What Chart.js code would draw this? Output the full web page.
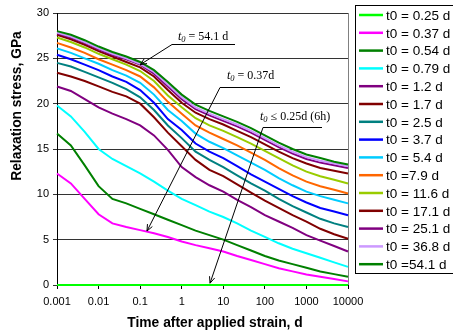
<!DOCTYPE html>
<html>
<head>
<meta charset="utf-8">
<script src="https://cdn.jsdelivr.net/npm/chart.js@4.4.1/dist/chart.umd.min.js"></script>
<style>
  html, body { margin: 0; padding: 0; background: #fff; }
  #wrap { width: 453px; height: 336px; }
</style>
</head>
<body>
<div id="wrap"><canvas id="relaxChart"></canvas></div>
<script>
// time after applied strain, d (three points per decade)
const times = [0.001, 0.002154, 0.004642, 0.01, 0.02154, 0.04642, 0.1, 0.2154, 0.4642,
  1, 2.154, 4.642, 10, 21.54, 46.42, 100, 215.4, 464.2, 1000, 2154, 4642, 10000];
const xTicks = [0.001, 0.01, 0.1, 1, 10, 100, 1000, 10000];

const labels = ['t0 = 0.25 d', 't0 = 0.37 d', 't0 = 0.54 d', 't0 = 0.79 d', 't0 = 1.2 d',
  't0 = 1.7 d', 't0 = 2.5 d', 't0 = 3.7 d', 't0 = 5.4 d', 't0 =7.9 d', 't0 = 11.6 d',
  't0 = 17.1 d', 't0 = 25.1 d', 't0 = 36.8 d', 't0 =54.1 d'];
const colors = ['#00ff00', '#ff00ff', '#008000', '#00ffff', '#800080', '#800000', '#008080',
  '#0000ff', '#00ccff', '#ff6600', '#99cc00', '#800000', '#800080', '#cc99ff', '#008000'];

// relaxation stress, GPa
const s025 = [0, 0, 0, 0, 0, 0, 0, 0, 0, 0, 0, 0, 0, 0, 0, 0, 0, 0, 0, 0, 0, 0];
const s037 = [12.3, 11.2, 9.5, 7.8, 6.8, 6.4, 6.05, 5.7, 5.3, 4.8, 4.4, 4.05, 3.7, 3.2, 2.75, 2.3, 1.85, 1.5, 1.15, 0.9, 0.65, 0.4];
const s054 = [16.7, 15.4, 13.2, 10.9, 9.5, 9.0, 8.4, 7.8, 7.2, 6.6, 6.0, 5.5, 5.0, 4.4, 3.8, 3.2, 2.7, 2.3, 1.9, 1.5, 1.2, 0.9];
const s079 = [19.8, 18.6, 16.9, 15.0, 13.9, 13.1, 12.3, 11.4, 10.4, 9.5, 8.8, 8.1, 7.5, 6.8, 6.0, 5.3, 4.6, 4.0, 3.5, 3.0, 2.5, 2.0];
const s12 = [21.9, 21.4, 20.5, 19.6, 18.9, 18.3, 17.6, 16.5, 14.9, 13.0, 11.9, 11.0, 10.3, 9.4, 8.6, 7.7, 7.0, 6.3, 5.5, 4.9, 4.3, 3.7];
const s17 = [23.4, 23.0, 22.5, 21.9, 21.3, 20.8, 20.0, 18.5, 16.8, 15.3, 13.8, 12.7, 12.0, 11.1, 10.2, 9.3, 8.5, 7.7, 7.0, 6.2, 5.6, 5.1];
const s25 = [24.5, 24.1, 23.5, 22.9, 22.3, 21.6, 20.7, 19.3, 17.6, 16.2, 14.7, 13.8, 13.0, 12.1, 11.2, 10.4, 9.5, 8.7, 8.0, 7.3, 6.8, 6.4];
const s37 = [25.4, 24.9, 24.3, 23.7, 23.0, 22.4, 21.5, 20.1, 18.3, 17.1, 15.6, 14.7, 14.0, 13.1, 12.2, 11.4, 10.6, 9.8, 9.1, 8.5, 8.1, 7.7];
const s54 = [26.1, 25.6, 25.0, 24.4, 23.7, 23.1, 22.3, 21.0, 19.3, 18.1, 16.7, 15.8, 15.1, 14.3, 13.5, 12.7, 11.8, 11.0, 10.3, 9.8, 9.4, 9.0];
const s79 = [26.7, 26.2, 25.6, 24.9, 24.3, 23.7, 23.0, 21.8, 20.2, 18.9, 17.6, 16.8, 16.1, 15.4, 14.6, 13.8, 12.9, 12.1, 11.4, 10.9, 10.5, 10.1];
const s116 = [27.3, 26.8, 26.2, 25.5, 24.9, 24.3, 23.6, 22.5, 20.9, 19.6, 18.4, 17.6, 17.0, 16.3, 15.6, 14.8, 14.0, 13.2, 12.5, 12.0, 11.6, 11.2];
const s171 = [27.6, 27.1, 26.5, 25.8, 25.2, 24.6, 24.0, 23.0, 21.5, 20.1, 19.0, 18.3, 17.7, 17.0, 16.3, 15.5, 14.7, 14.0, 13.4, 12.9, 12.6, 12.3];
const s251 = [27.75, 27.3, 26.7, 26.0, 25.4, 24.9, 24.3, 23.3, 21.9, 20.5, 19.4, 18.7, 18.1, 17.5, 16.8, 16.0, 15.2, 14.5, 13.9, 13.5, 13.2, 12.9];
const s368 = [27.85, 27.4, 26.8, 26.1, 25.5, 25.0, 24.4, 23.5, 22.1, 20.7, 19.6, 18.9, 18.3, 17.7, 17.0, 16.2, 15.4, 14.7, 14.1, 13.7, 13.4, 13.1];
const s541 = [28.0, 27.6, 27.0, 26.3, 25.7, 25.2, 24.6, 23.7, 22.4, 21.0, 19.9, 19.2, 18.6, 18.0, 17.3, 16.5, 15.7, 15.0, 14.4, 14.0, 13.6, 13.3];

const series = [s025, s037, s054, s079, s12, s17, s25, s37, s54, s79, s116, s171, s251, s368, s541];

const datasets = series.map((vals, i) => ({
  label: labels[i],
  data: vals.map((v, j) => ({ x: times[j], y: v })),
  borderColor: colors[i],
  backgroundColor: colors[i],
  borderWidth: 2,
  pointRadius: 0,
  tension: 0,
  fill: false,
  clip: false,
  order: -i
}));

function arrow(ctx, x1, y1, x2, y2) {
  const a = Math.atan2(y2 - y1, x2 - x1);
  const len = 7, spread = 0.4;
  ctx.beginPath();
  ctx.moveTo(x1, y1);
  ctx.lineTo(x2, y2);
  ctx.moveTo(x2 - len * Math.cos(a - spread), y2 - len * Math.sin(a - spread));
  ctx.lineTo(x2, y2);
  ctx.lineTo(x2 - len * Math.cos(a + spread), y2 - len * Math.sin(a + spread));
  ctx.stroke();
}

function t0label(ctx, x, y, rest) {
  ctx.textBaseline = 'alphabetic';
  ctx.textAlign = 'left';
  ctx.font = 'italic 12px "Liberation Serif"';
  ctx.fillText('t', x, y);
  let w = ctx.measureText('t').width;
  ctx.font = 'italic 8.5px "Liberation Serif"';
  ctx.fillText('0', x + w, y + 2);
  w += ctx.measureText('0').width;
  ctx.font = '12px "Liberation Serif"';
  ctx.fillText(rest, x + w, y);
}

const extras = {
  id: 'extras',
  beforeDatasetsDraw(chart) {
    // plot area border on the right
    const a = chart.chartArea, ctx = chart.ctx;
    ctx.save();
    ctx.strokeStyle = '#808080';
    ctx.lineWidth = 1;
    ctx.beginPath();
    ctx.moveTo(Math.round(a.right) + 0.5, a.top);
    ctx.lineTo(Math.round(a.right) + 0.5, a.bottom);
    ctx.stroke();
    ctx.restore();
  },
  afterDatasetsDraw(chart) {
    const ctx = chart.ctx;
    const xs = chart.scales.x, ys = chart.scales.y;
    ctx.save();
    ctx.strokeStyle = '#000';
    ctx.fillStyle = '#000';
    ctx.lineWidth = 1;

    // annotations
    ctx.beginPath(); ctx.moveTo(172, 44.5); ctx.lineTo(235, 44.5); ctx.stroke();
    arrow(ctx, 172, 44.5, xs.getPixelForValue(0.1), ys.getPixelForValue(24.3));
    t0label(ctx, 178, 40, ' = 54.1 d');

    ctx.beginPath(); ctx.moveTo(220, 87.5); ctx.lineTo(280, 87.5); ctx.stroke();
    arrow(ctx, 220, 87.5, xs.getPixelForValue(0.146), ys.getPixelForValue(5.95));
    t0label(ctx, 227, 79, ' = 0.37d');

    ctx.beginPath(); ctx.moveTo(263, 127.5); ctx.lineTo(322, 127.5); ctx.stroke();
    arrow(ctx, 263, 127.5, xs.getPixelForValue(4.8), ys.getPixelForValue(0.2));
    t0label(ctx, 260, 120, ' \u2264 0.25d (6h)');

    // axis titles
    ctx.font = 'bold 13.8px "Liberation Sans"';
    ctx.textAlign = 'center';
    ctx.textBaseline = 'middle';
    ctx.fillText('Time after applied strain, d', 215, 323);
    ctx.save();
    ctx.translate(17, 106);
    ctx.rotate(-Math.PI / 2);
    ctx.fillText('Relaxation stress, GPa', 0, 0);
    ctx.restore();

    // legend
    ctx.strokeRect(355.5, 5.5, 110, 268);
    ctx.font = '13.5px "Liberation Sans"';
    ctx.textAlign = 'left';
    labels.forEach((lab, i) => {
      const y = 15 + i * 17.8;
      ctx.strokeStyle = colors[i];
      ctx.lineWidth = 2.5;
      ctx.beginPath(); ctx.moveTo(359, y); ctx.lineTo(383, y); ctx.stroke();
      ctx.fillStyle = '#000';
      ctx.fillText(lab, 386, y + 1);
    });
    ctx.restore();
  }
};

new Chart(document.getElementById('relaxChart'), {
  type: 'line',
  data: { datasets: datasets },
  options: {
    responsive: true,
    maintainAspectRatio: false,
    animation: false,
    layout: { padding: { left: 0, top: 13, right: 105, bottom: 0 } },
    plugins: { legend: { display: false }, tooltip: { enabled: false } },
    scales: {
      x: {
        type: 'logarithmic',
        min: 0.001,
        max: 10000,
        afterBuildTicks: s => { s.ticks = xTicks.map(v => ({ value: v })); },
        afterFit: s => { s.height = 51; },
        ticks: {
          autoSkip: false,
          maxRotation: 0,
          color: '#000',
          font: { family: 'Liberation Sans', size: 11 },
          padding: 6,
          callback: v => String(v)
        },
        grid: { drawOnChartArea: false, tickLength: 4, color: '#000' },
        border: { color: '#000', width: 1 }
      },
      y: {
        min: 0,
        max: 30,
        afterFit: s => { s.width = 57; },
        ticks: {
          stepSize: 5,
          color: '#000',
          font: { family: 'Liberation Sans', size: 11 },
          padding: 4
        },
        grid: { color: '#333', tickLength: 4 },
        border: { color: '#000', width: 1 }
      }
    }
  },
  plugins: [extras]
});
</script>
</body>
</html>
